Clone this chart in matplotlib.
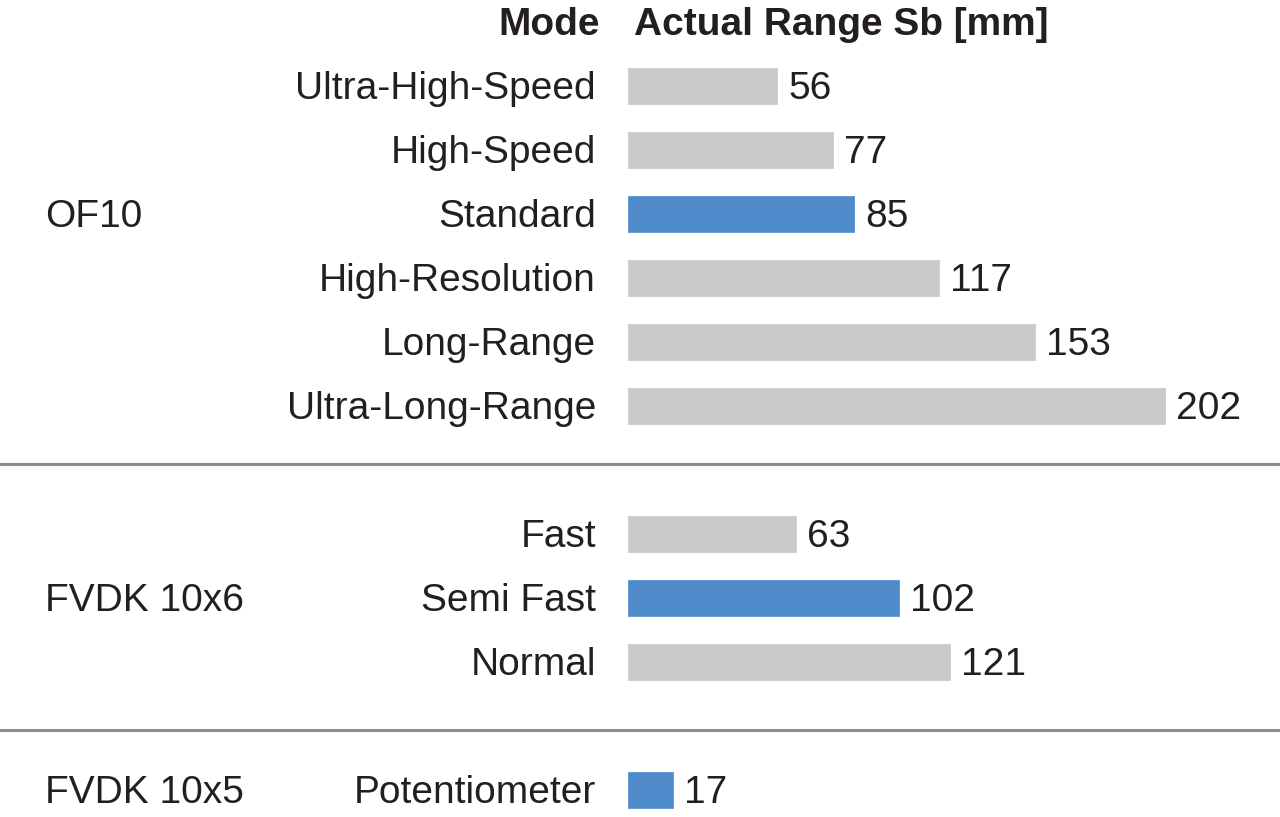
import matplotlib.pyplot as plt
from matplotlib.transforms import blended_transform_factory

plt.rcParams['font.family'] = ['Liberation Sans', 'DejaVu Sans']

# Data
groups = ["OF10", "FVDK 10x6", "FVDK 10x5"]
modes = [
    ["Ultra-High-Speed", "High-Speed", "Standard", "High-Resolution",
     "Long-Range", "Ultra-Long-Range"],
    ["Fast", "Semi Fast", "Normal"],
    ["Potentiometer"],
]
ranges = [
    [56, 77, 85, 117, 153, 202],
    [63, 102, 121],
    [17],
]
highlighted = ["Standard", "Semi Fast", "Potentiometer"]

grey = "#c8c9cb"
blue = "#4f8bca"
txt = "#231f20"
fs = 28
dy = 0.05  # nudge text down a little to sit centred on the bars

fig = plt.figure(figsize=(12.8, 8.17), dpi=100)
# axes starts where the bars start (x=628 px), spans full height
ax = fig.add_axes([628 / 1280, 0, 1 - 628 / 1280, 1])
ax.set_xlim(0, 652 / 2.66)
ax.set_ylim((817 - 86) / 64, -86 / 64)
ax.axis('off')

tr = blended_transform_factory(fig.transFigure, ax.transData)

pos = 0
for gi, g in enumerate(groups):
    ys = []
    for m, v in zip(modes[gi], ranges[gi]):
        col = blue if m in highlighted else grey
        ax.barh(pos, v, height=0.56, color=col, edgecolor=col, linewidth=0.5)
        ax.annotate(str(v), (v, pos + dy), xytext=(8, 0), textcoords='offset points',
                    ha='left', va='center', fontsize=fs, color=txt)
        ax.text(596 / 1280, pos + dy, m, transform=tr, ha='right', va='center',
                fontsize=fs, color=txt)
        ys.append(pos)
        pos += 1
    ax.text(45 / 1280, ys[(len(ys) - 1) // 2] + dy, g, transform=tr, ha='left',
            va='center', fontsize=fs, color=txt)
    if gi < len(groups) - 1:
        ax.plot([0, 1], [pos - 0.094 + 0.154 * gi] * 2, transform=tr,
                color="#8e8e8e", lw=2.2, clip_on=False)
    pos += 1

# header
ax.text(600 / 1280, -1 + dy, "Mode", transform=tr, ha='right', va='center',
        fontsize=fs, fontweight='bold', color=txt)
ax.text(634 / 1280, -1 + dy, "Actual Range Sb [mm]", transform=tr, ha='left',
        va='center', fontsize=fs, fontweight='bold', color=txt)

fig.savefig("out.png", dpi=100)
